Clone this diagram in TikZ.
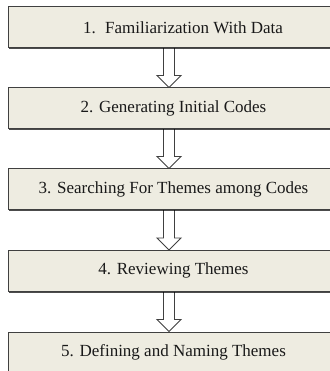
\documentclass[tikz,border=0pt]{standalone}
\usepackage{fontspec}
\setmainfont{Liberation Serif}
\usetikzlibrary{calc,shadows,backgrounds}
\definecolor{stagefill}{HTML}{EEECE1}
\definecolor{stageline}{HTML}{404040}
\newcommand{\hollowarrow}[2]{%
  \draw[flowarrow] let \p1=(#1.south), \p2=(#2.north) in
    (\x1-10pt,\y1) -- (\x1-10pt,\y2+12pt) -- (\x1-16.5pt,\y2+12pt) -- (\x1-4.5pt,\y2)
    -- (\x1+7.5pt,\y2+12pt) -- (\x1+1pt,\y2+12pt) -- (\x1+1pt,\y1);}

\begin{document}
\begin{tikzpicture}[x=1pt,y=1pt,
    stage/.style={draw=stageline, fill=stagefill, line width=1pt, rectangle,
      minimum width=330pt, minimum height=40.5pt, inner sep=0pt,
      font=\fontsize{17}{20}\selectfont, text=black!90,
      drop shadow={shadow xshift=0.5pt, shadow yshift=-1.5pt, fill=black, opacity=0.7}},
    flowarrow/.style={draw=stageline, fill=white, line width=0.9pt, line join=miter}]
  \useasboundingbox (0,0) rectangle (329,-371);
  \node[stage] (s1) at (173.5,-27.25) {\hspace*{19pt}1.\hspace{0.55em}Familiarization With Data};
  \node[stage] (s2) at (173.5,-108.25) {2. Generating Initial Codes};
  \node[stage] (s3) at (173.5,-189.25) {3. Searching For Themes among Codes};
  \node[stage] (s4) at (173.5,-270.75) {4. Reviewing Themes};
  \node[stage] (s5) at (173.5,-352.25) {5. Defining and Naming Themes};
  \begin{pgfonlayer}{background}
    \hollowarrow{s1}{s2}
    \hollowarrow{s2}{s3}
    \hollowarrow{s3}{s4}
    \hollowarrow{s4}{s5}
  \end{pgfonlayer}
\end{tikzpicture}
\end{document}
